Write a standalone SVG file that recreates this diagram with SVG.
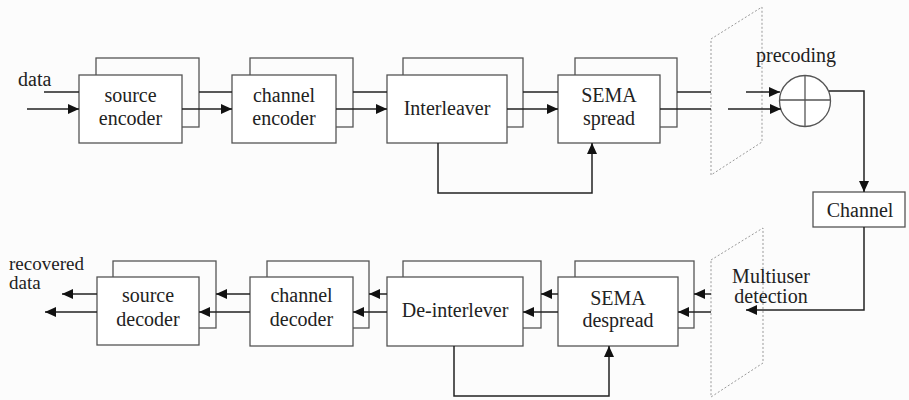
<svg xmlns="http://www.w3.org/2000/svg" width="909" height="400" viewBox="0 0 909 400">
<style>
.box{fill:#fff;stroke:#555;stroke-width:1.3}
.back{fill:none;stroke:#555;stroke-width:1.3}
.t{font-family:"Liberation Serif","DejaVu Serif","Times New Roman",serif;font-size:20px;fill:#222}
.c{text-anchor:middle}
.w{fill:none;stroke:#222;stroke-width:1.5}
.a{fill:none;stroke:#222;stroke-width:1.5;marker-end:url(#ah)}
.plane{fill:none;stroke:#999;stroke-width:1;stroke-dasharray:2 2}
</style>
<defs>
<marker id="ah" markerUnits="userSpaceOnUse" markerWidth="11" markerHeight="10" refX="11" refY="5" orient="auto">
<path d="M0,0 L11,5 L0,10 z" fill="#111"/>
</marker>
</defs>
<rect width="909" height="400" fill="#fcfcfc"/>

<g id="plane-tx"><polygon class="plane" points="711,39 762,7 762,142 711,175"/></g>
<g id="plane-rx"><polygon class="plane" points="711,260 763,228 763,363 711,397"/></g>

<g id="source-encoder">
<rect class="back" x="96" y="58" width="103" height="69"/>
<rect class="box" x="79" y="75" width="103" height="68"/>
<text class="t c" x="130.5" y="102">source</text>
<text class="t c" x="130.5" y="125">encoder</text>
</g>
<g id="channel-encoder">
<rect class="back" x="250" y="58" width="103" height="69"/>
<rect class="box" x="232" y="75" width="104" height="68"/>
<text class="t c" x="284" y="102">channel</text>
<text class="t c" x="284" y="125">encoder</text>
</g>
<g id="interleaver">
<rect class="back" x="403" y="58" width="120" height="69"/>
<rect class="box" x="387" y="75" width="120" height="68"/>
<text class="t c" x="447" y="115">Interleaver</text>
</g>
<g id="sema-spread">
<rect class="back" x="575" y="58" width="102" height="69"/>
<rect class="box" x="558" y="75" width="102" height="68"/>
<text class="t c" x="609" y="102">SEMA</text>
<text class="t c" x="609" y="125">spread</text>
</g>
<g id="precoding">
<circle cx="805" cy="101" r="25.5" fill="#fff" stroke="#555" stroke-width="1.3"/>
<line x1="805" y1="75.5" x2="805" y2="126.5" stroke="#555" stroke-width="1.3"/>
<line x1="779.5" y1="100" x2="830.5" y2="100" stroke="#555" stroke-width="1.3"/>
<text class="t c" x="796" y="62">precoding</text>
</g>
<g id="channel">
<rect class="box" x="813" y="192" width="92" height="35"/>
<text class="t c" x="860" y="217">Channel</text>
</g>
<g id="multiuser-detection">
<text class="t c" x="771" y="283">Multiuser</text>
<text class="t c" x="771" y="303">detection</text>
</g>
<g id="sema-despread">
<rect class="back" x="575" y="261" width="119" height="67"/>
<rect class="box" x="558" y="277" width="120" height="69"/>
<text class="t c" x="618" y="305">SEMA</text>
<text class="t c" x="618" y="327">despread</text>
</g>
<g id="de-interlever">
<rect class="back" x="403" y="261" width="138" height="67"/>
<rect class="box" x="387" y="277" width="136" height="69"/>
<text class="t c" x="455" y="317">De-interlever</text>
</g>
<g id="channel-decoder">
<rect class="back" x="267" y="261" width="102" height="67"/>
<rect class="box" x="250" y="277" width="103" height="69"/>
<text class="t c" x="301.5" y="302">channel</text>
<text class="t c" x="301.5" y="326">decoder</text>
</g>
<g id="source-decoder">
<rect class="back" x="113" y="261" width="103" height="67"/>
<rect class="box" x="97" y="277" width="102" height="68"/>
<text class="t c" x="148" y="302">source</text>
<text class="t c" x="148" y="326">decoder</text>
</g>
<g id="data-labels">
<text class="t" x="18" y="86">data</text>
<text class="t" x="9" y="270" style="font-size:19px">recovered</text>
<text class="t" x="9" y="289" style="font-size:19px">data</text>
</g>

<g id="connectors">
<line class="w" x1="44" y1="92" x2="79" y2="92"/>
<line class="a" x1="27" y1="109" x2="79" y2="109"/>
<line class="w" x1="199" y1="92" x2="232" y2="92"/>
<line class="a" x1="182" y1="109" x2="232" y2="109"/>
<line class="w" x1="353" y1="92" x2="387" y2="92"/>
<line class="a" x1="336" y1="109" x2="387" y2="109"/>
<line class="w" x1="523" y1="92" x2="558" y2="92"/>
<line class="a" x1="507" y1="109" x2="558" y2="109"/>
<polyline class="a" points="438,143 438,193 592,193 592,143"/>
<line class="w" x1="677" y1="92" x2="711" y2="92"/>
<line class="w" x1="660" y1="109" x2="711" y2="109"/>
<line class="a" x1="746" y1="92" x2="780" y2="92"/>
<line class="a" x1="728" y1="109" x2="781" y2="109"/>
<polyline class="a" points="829,91 864,91 864,192"/>
<polyline class="a" points="864,227 864,310 746,310"/>
<line class="a" x1="711" y1="294" x2="694" y2="294"/>
<line class="a" x1="711" y1="312" x2="678" y2="312"/>
<line class="a" x1="558" y1="294" x2="541" y2="294"/>
<line class="a" x1="558" y1="312" x2="523" y2="312"/>
<polyline class="a" points="454,346 454,396 609,396 609,346"/>
<line class="a" x1="387" y1="294" x2="369" y2="294"/>
<line class="a" x1="387" y1="312" x2="353" y2="312"/>
<line class="a" x1="250" y1="294" x2="216" y2="294"/>
<line class="a" x1="250" y1="312" x2="199" y2="312"/>
<line class="a" x1="97" y1="294" x2="62" y2="294"/>
<line class="a" x1="97" y1="312" x2="45" y2="312"/>
</g>
</svg>
